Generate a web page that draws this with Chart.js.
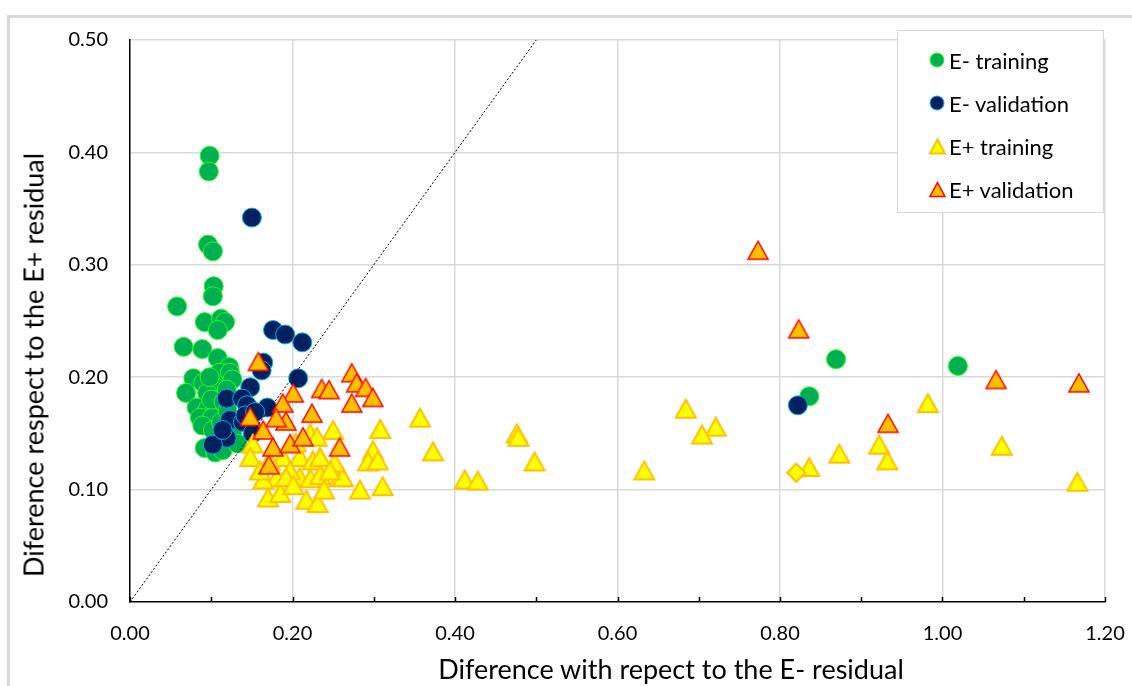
<!DOCTYPE html>
<html>
<head>
<meta charset="utf-8">
<script src="https://cdn.jsdelivr.net/npm/chart.js@4/dist/chart.umd.min.js"></script>
<style>
  html, body { margin: 0; padding: 0; background: #fff; }
  #wrap { position: relative; width: 1132px; height: 686px; overflow: hidden;
          font-family: Lato, "Liberation Sans", sans-serif; color: #000; }
  #frame { position: absolute; left: 7px; top: 15px; width: 1300px; height: 900px;
           border: 3px solid #d9d9d9; box-sizing: border-box; }
  #chart { position: absolute; left: 0; top: 0; }
  .axis-title { position: absolute; white-space: nowrap; font-size: 27px; line-height: 1; }
  #xtitle { left: 671px; top: 668px; transform: translate(-50%, -50%); }
  #ytitle { left: 33px; top: 365px; transform: translate(-50%, -50%) rotate(-90deg); }
  #legend { position: absolute; left: 897px; top: 30px; width: 207px; height: 183px;
            border: 1.5px solid #d9d9d9; background: #fff; box-sizing: border-box; }
  .item { position: absolute; left: 0; height: 30px; display: flex; align-items: center;
          font-size: 22px; white-space: nowrap; }
</style>
</head>
<body>
<div id="wrap">
  <div id="frame"></div>
  <canvas id="chart" width="1132" height="686"></canvas>
  <div id="xtitle" class="axis-title">Diference with repect to the E- residual</div>
  <div id="ytitle" class="axis-title">Diference respect to the E+ residual</div>
  <div id="legend"></div>
</div>
<script>
// ---- data ----
const seriesNames = ['E- training', 'E- validation', 'E+ training', 'E+ validation'];

const eMinusTrainX = [0.098, 0.097, 0.096, 0.102, 0.103, 0.102, 0.058, 0.092, 0.112, 0.117,
  0.108, 0.066, 0.089, 0.108, 0.122, 0.110, 0.123, 0.078, 0.090, 0.126, 0.105, 0.069, 0.095,
  0.119, 0.082, 0.095, 0.105, 0.086, 0.101, 0.089, 0.102, 0.126, 0.092, 0.105, 0.114, 0.132,
  0.100, 0.115, 0.098, 0.112, 0.120, 0.836, 0.869, 1.019];
const eMinusTrainY = [0.397, 0.383, 0.318, 0.312, 0.281, 0.272, 0.263, 0.249, 0.252, 0.249,
  0.242, 0.227, 0.225, 0.217, 0.209, 0.204, 0.204, 0.199, 0.195, 0.198, 0.191, 0.186, 0.186,
  0.189, 0.173, 0.171, 0.173, 0.164, 0.164, 0.157, 0.153, 0.150, 0.137, 0.133, 0.135, 0.141,
  0.180, 0.178, 0.200, 0.160, 0.170, 0.183, 0.216, 0.210];

const eMinusValX = [0.150, 0.176, 0.191, 0.212, 0.164, 0.162, 0.207, 0.148, 0.119, 0.138,
  0.144, 0.169, 0.123, 0.139, 0.119, 0.102, 0.114, 0.151, 0.142, 0.154, 0.822];
const eMinusValY = [0.342, 0.242, 0.238, 0.231, 0.213, 0.206, 0.199, 0.191, 0.181, 0.181,
  0.175, 0.173, 0.162, 0.160, 0.146, 0.140, 0.153, 0.150, 0.166, 0.169, 0.175];

// the last E+ training point is drawn as a diamond
const ePlusTrainX = [0.250, 0.308, 0.151, 0.148, 0.299, 0.293, 0.222, 0.230, 0.209, 0.225,
  0.234, 0.188, 0.172, 0.181, 0.209, 0.222, 0.234, 0.258, 0.170, 0.185, 0.217, 0.231, 0.239,
  0.283, 0.311, 0.164, 0.197, 0.160, 0.357, 0.373, 0.305, 0.262, 0.476, 0.478, 0.498, 0.412,
  0.428, 0.684, 0.721, 0.704, 0.633, 0.982, 1.073, 1.166, 0.922, 0.932, 0.873, 0.836, 0.204,
  0.192, 0.201, 0.252, 0.246, 0.820];
const ePlusTrainY = [0.153, 0.154, 0.141, 0.129, 0.135, 0.125, 0.150, 0.147, 0.129, 0.126,
  0.129, 0.129, 0.126, 0.111, 0.111, 0.110, 0.113, 0.111, 0.093, 0.097, 0.091, 0.088, 0.100,
  0.100, 0.103, 0.109, 0.117, 0.117, 0.164, 0.134, 0.126, 0.111, 0.150, 0.147, 0.125, 0.109,
  0.108, 0.172, 0.156, 0.149, 0.117, 0.177, 0.139, 0.107, 0.140, 0.126, 0.132, 0.120, 0.142,
  0.111, 0.104, 0.124, 0.117, 0.115];

const ePlusValX = [0.158, 0.273, 0.279, 0.290, 0.236, 0.245, 0.299, 0.273, 0.201, 0.188,
  0.224, 0.148, 0.192, 0.164, 0.176, 0.197, 0.213, 0.258, 0.171, 0.180, 0.773, 0.823, 1.066,
  1.168, 0.933];
const ePlusValY = [0.214, 0.204, 0.195, 0.191, 0.190, 0.189, 0.182, 0.177, 0.186, 0.177,
  0.168, 0.165, 0.161, 0.153, 0.138, 0.141, 0.147, 0.138, 0.122, 0.164, 0.313, 0.243, 0.198,
  0.195, 0.159];

// 1:1 reference line
const refLineX = [0, 0.5];
const refLineY = [0, 0.5];

const xTicks = { min: 0, max: 1.2, step: 0.1 };
const yTicks = { min: 0, max: 0.5, step: 0.1 };

// ---- marker images ----
function triangleMarker(size, fill, stroke, lw) {
  const c = document.createElement('canvas');
  const w = size, h = Math.round(size * 0.9);
  c.width = w + 6; c.height = w + 6;
  const g = c.getContext('2d');
  const cx = c.width / 2, cy = c.height / 2;
  g.beginPath();
  g.moveTo(cx, cy - h / 2);
  g.lineTo(cx + w / 2, cy + h / 2);
  g.lineTo(cx - w / 2, cy + h / 2);
  g.closePath();
  g.fillStyle = fill; g.fill();
  g.lineWidth = lw; g.strokeStyle = stroke; g.lineJoin = 'miter'; g.stroke();
  return c;
}
function circleMarker(r, fill, stroke, lw) {
  const c = document.createElement('canvas');
  c.width = c.height = Math.ceil(2 * r + 4);
  const g = c.getContext('2d');
  g.beginPath(); g.arc(c.width / 2, c.height / 2, r, 0, Math.PI * 2);
  g.fillStyle = fill; g.fill();
  g.lineWidth = lw; g.strokeStyle = stroke; g.stroke();
  return c;
}

const styles = [
  { fill: '#00B050', stroke: '#22FF22', lw: 1, shape: 'circle' },
  { fill: '#002060', stroke: '#00B0F0', lw: 1, shape: 'circle' },
  { fill: '#FFFF00', stroke: '#FFC000', lw: 2, shape: 'triangle' },
  { fill: '#FFC000', stroke: '#FF0000', lw: 1.5, shape: 'triangle' }
];
const yellowTri = triangleMarker(20, styles[2].fill, styles[2].stroke, styles[2].lw);
const orangeTri = triangleMarker(20, styles[3].fill, styles[3].stroke, styles[3].lw);

const toPoints = (xs, ys) => xs.map((x, i) => ({ x, y: ys[i] }));
const diamondIndex = ePlusTrainX.length - 1;

// ---- inward tick marks on the x axis ----
const innerTicks = {
  id: 'innerTicks',
  afterDraw(chart) {
    const s = chart.scales.x, g = chart.ctx, y0 = chart.chartArea.bottom;
    g.save();
    g.strokeStyle = '#000'; g.lineWidth = 1.5;
    s.ticks.forEach(t => {
      const px = Math.round(s.getPixelForValue(t.value)) + 0.5;
      g.beginPath(); g.moveTo(px, y0); g.lineTo(px, y0 - 5); g.stroke();
    });
    g.restore();
  }
};

const gridColor = '#d9d9d9';
const chart = new Chart(document.getElementById('chart'), {
  type: 'scatter',
  data: {
    datasets: [
      { type: 'line', label: '1:1', data: toPoints(refLineX, refLineY), borderColor: '#000',
        borderWidth: 1, borderDash: [2, 2], pointRadius: 0, fill: false, order: -1 },
      { label: seriesNames[0], data: toPoints(eMinusTrainX, eMinusTrainY), pointStyle: 'circle',
        pointRadius: 9.5, backgroundColor: styles[0].fill, borderColor: styles[0].stroke,
        borderWidth: styles[0].lw, order: 4 },
      { label: seriesNames[1], data: toPoints(eMinusValX, eMinusValY), pointStyle: 'circle',
        pointRadius: 9.5, backgroundColor: styles[1].fill, borderColor: styles[1].stroke,
        borderWidth: styles[1].lw, order: 3 },
      { label: seriesNames[2], data: toPoints(ePlusTrainX, ePlusTrainY),
        pointStyle: ctx => ctx.dataIndex === diamondIndex ? 'rectRot' : yellowTri,
        pointRadius: 9, backgroundColor: styles[2].fill, borderColor: styles[2].stroke,
        borderWidth: styles[2].lw, order: 2 },
      { label: seriesNames[3], data: toPoints(ePlusValX, ePlusValY), pointStyle: orangeTri,
        pointRadius: 9, backgroundColor: styles[3].fill, borderColor: styles[3].stroke,
        borderWidth: styles[3].lw, order: 1 }
    ]
  },
  options: {
    responsive: false,
    animation: false,
    devicePixelRatio: 1,
    layout: { padding: { left: 0, right: 27, top: 40, bottom: 0 } },
    plugins: { legend: { display: false }, tooltip: { enabled: false } },
    scales: {
      x: {
        type: 'linear', min: xTicks.min, max: xTicks.max,
        afterFit: s => { s.height = 84; s.paddingLeft = 0; s.paddingRight = 20; },
        ticks: {
          stepSize: xTicks.step, autoSkip: false, maxRotation: 0, padding: 20,
          color: '#000', font: { family: 'Lato', size: 20 },
          callback: v => (Math.round(v * 10) % 2 === 0 ? v.toFixed(2) : '')
        },
        grid: {
          drawTicks: false, lineWidth: 1.5,
          color: c => (c.index === 0 || Math.round(c.tick.value * 10) % 2 !== 0) ? 'rgba(0,0,0,0)' : gridColor
        },
        border: { display: true, color: '#000', width: 1.5 }
      },
      y: {
        type: 'linear', min: yTicks.min, max: yTicks.max,
        afterFit: s => { s.width = 130; },
        ticks: {
          stepSize: yTicks.step, padding: 22, color: '#000',
          font: { family: 'Lato', size: 20 },
          callback: v => v.toFixed(2)
        },
        grid: {
          drawTicks: false, lineWidth: 1.5,
          color: c => c.index === 0 ? 'rgba(0,0,0,0)' : gridColor
        },
        border: { display: true, color: '#000', width: 1.5 }
      }
    }
  },
  plugins: [innerTicks]
});

// ---- legend ----
const legend = document.getElementById('legend');
chart.data.datasets.slice(1).forEach((ds, i) => {
  const st = styles[i];
  const mk = st.shape === 'circle'
    ? circleMarker(7, st.fill, st.stroke, st.lw)
    : triangleMarker(15, st.fill, st.stroke, st.lw);
  const row = document.createElement('div');
  row.className = 'item';
  row.style.top = (14 + i * 43) + 'px';
  mk.style.marginLeft = (39 - mk.width / 2) + 'px';
  mk.style.marginRight = (51 - 39 - mk.width / 2) + 'px';
  row.appendChild(mk);
  const txt = document.createElement('span');
  txt.textContent = ds.label;
  row.appendChild(txt);
  legend.appendChild(row);
});
</script>
</body>
</html>
